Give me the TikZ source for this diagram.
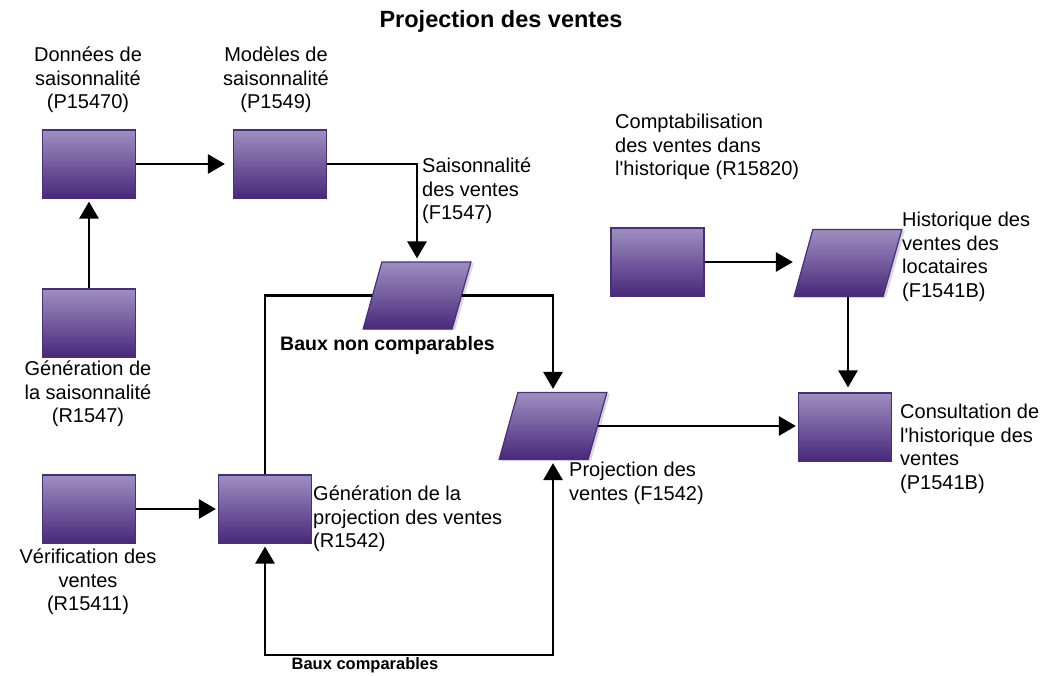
\documentclass[tikz,border=0pt]{standalone}
\usepackage{fontspec}
\setmainfont{Liberation Sans}
\usetikzlibrary{arrows.meta,shadows}
\definecolor{boxtop}{RGB}{158,143,192}
\definecolor{boxbot}{RGB}{72,40,122}
\definecolor{boxline}{RGB}{74,45,125}
\begin{document}
\begin{tikzpicture}[x=1pt,y=-1pt,
  proc/.style={draw=boxline, line width=1.2pt, top color=boxtop, bottom color=boxbot,
    minimum width=93, minimum height=68, inner sep=0},
  para/.style={proc, minimum width=89, minimum height=67, xslant=0.28, transform shape,
    general shadow={fill=black!15, draw=none, shadow xshift=3pt, shadow yshift=-1pt}},
  lbl/.style={font=\fontsize{20}{23.5}\selectfont, inner sep=0, align=left},
  line/.style={line width=2.8pt},
  arr/.style={line, -{Triangle[length=17pt,width=19pt]}, shorten >=3pt},
  biarr/.style={line, {Triangle[length=17pt,width=19pt]}-{Triangle[length=17pt,width=19pt]}, shorten >=3pt, shorten <=3pt}
]
\useasboundingbox (0,0) rectangle (1049,675);

% title
\node[font=\bfseries\fontsize{23.5}{27}\selectfont, inner sep=0] (title) at (501,21) {Projection des ventes};

% process boxes
\node[proc] (dat) at (89,164) {};
\node[proc] (mod) at (280,164) {};
\node[proc] (gsa) at (89,323) {};
\node[proc] (ver) at (89,509) {};
\node[proc] (gpr) at (265,509) {};
\node[proc] (cpt) at (657.5,262) {};
\node[proc] (con) at (845,427) {};

% data stores (parallelograms)
\node[para] (sai) at (417,295.5) {};
\node[para] (pro) at (553,426) {};
\node[para] (his) at (848,263) {};

% labels
\node[lbl, align=center, anchor=north] (tdat) at (88,47) {Données de\\saisonnalité\\(P15470)};
\node[lbl, align=center, anchor=north] (tmod) at (276,47) {Modèles de\\saisonnalité\\(P1549)};
\node[lbl, anchor=north west] (tsai) at (422,158) {Saisonnalité\\des ventes\\(F1547)};
\node[lbl, align=center, anchor=north] (tgsa) at (88,361) {Génération de\\la saisonnalité\\(R1547)};
\node[lbl, align=center, anchor=north] (tver) at (88,549) {Vérification des\\ventes\\(R15411)};
\node[lbl, anchor=north west] (tgpr) at (313,486) {Génération de la\\projection des ventes\\(R1542)};
\node[lbl, anchor=north west] (tpro) at (569,462) {Projection des\\ventes (F1542)};
\node[lbl, anchor=north west] (tcpt) at (615,114) {Comptabilisation\\des ventes dans\\l\textquotesingle historique (R15820)};
\node[lbl, anchor=north west] (this) at (902,212) {Historique des\\ventes des\\locataires\\(F1541B)};
\node[lbl, anchor=north west] (tcon) at (900,404) {Consultation de\\l\textquotesingle historique des\\ventes\\(P1541B)};
\node[font=\bfseries\fontsize{19.5}{22}\selectfont, anchor=west, inner sep=0] (tnc) at (280,345) {Baux non comparables};
\node[font=\bfseries\fontsize{16.5}{19}\selectfont, inner sep=0] (tc) at (365,665) {Baux comparables};

% connectors
\draw[arr, shorten >=8pt] (dat) -- (mod);
\draw[arr] (gsa) -- (dat);
\draw[arr] (mod.east) -| (sai.center |- sai.north);
\draw[line] (gpr.north) |- (sai.west);
\draw[arr] (sai.east) -| (pro.center |- pro.north);
\draw[arr, shorten >=2pt] (ver) -- (gpr);
\coordinate (bl) at (265,655);
\coordinate (br) at (553,655);
\draw[biarr] (gpr.south) -- (bl) -- (br) -- (pro.center |- pro.south);
\draw[arr, shorten >=2pt] (pro.east) -- (pro.east -| con.west);
\draw[arr, shorten >=10pt] (cpt.east) -- (cpt.east -| his.west);
\draw[arr, shorten >=5pt] (his.center |- his.south) -- (his.center |- con.north);
\end{tikzpicture}
\end{document}
